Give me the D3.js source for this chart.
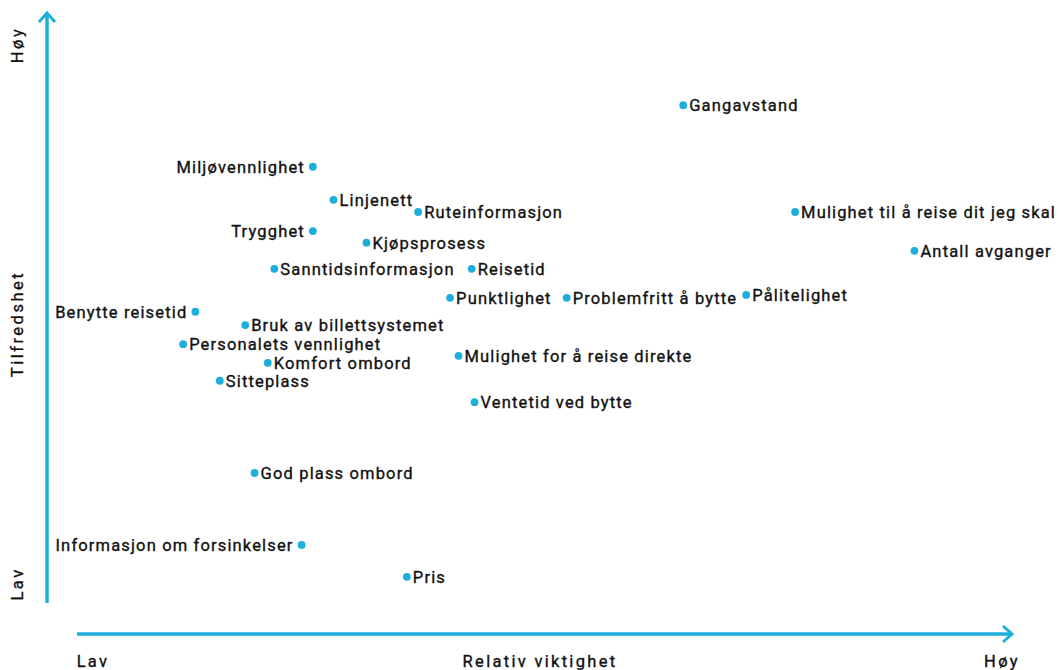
<!DOCTYPE html>
<html>
<head>
<meta charset="utf-8">
<script src="https://cdn.jsdelivr.net/npm/d3@7"></script>
<style>
    html, body { margin: 0; padding: 0; background: #fff; }
    svg text { font-family: Roboto, "DejaVu Sans", sans-serif; fill: #111; stroke: #111; stroke-width: 0.35px; }
</style>
</head>
<body>
<svg id="chart" width="1061" height="670"></svg>
<script>
/* data: relative importance (x) and satisfaction (y), 0-100 */
const names = [
    'Gangavstand', 'Miljøvennlighet', 'Linjenett', 'Ruteinformasjon',
    'Mulighet til å reise dit jeg skal', 'Trygghet', 'Kjøpsprosess', 'Antall avganger',
    'Sanntidsinformasjon', 'Reisetid', 'Punktlighet', 'Problemfritt å bytte',
    'Pålitelighet', 'Benytte reisetid', 'Bruk av billettsystemet', 'Personalets vennlighet',
    'Komfort ombord', 'Mulighet for å reise direkte', 'Sitteplass', 'Ventetid ved bytte',
    'God plass ombord', 'Informasjon om forsinkelser', 'Pris'
];
const importance = [
    66.3, 26.9, 29.1, 38.1,
    78.2, 26.9, 32.6, 90.9,
    22.8, 43.8, 41.5, 53.9,
    73.0, 14.4, 19.7, 13.1,
    22.1, 42.4, 17.0, 44.1,
    20.7, 25.7, 36.9
];
const satisfaction = [
    85.3, 74.7, 69.0, 66.9,
    66.9, 63.6, 61.6, 60.2,
    57.1, 57.1, 52.1, 52.1,
    52.6, 49.7, 47.4, 44.1,
    40.9, 42.1, 37.8, 34.1,
    21.9, 9.5, 4.0
];
// labels placed left of the dot
const leftLabels = ['Miljøvennlighet', 'Trygghet', 'Benytte reisetid', 'Informasjon om forsinkelser'];

const axisColor = '#1eaedc';
const svg = d3.select('#chart');

const x = d3.scaleLinear().domain([0, 100]).range([60, 1000]);
const y = d3.scaleLinear().domain([0, 100]).range([600, 20]);

// axes with arrows
const axes = svg.append('g').attr('class', 'axes')
    .attr('stroke', axisColor).attr('fill', 'none')
    .attr('stroke-width', 3.5);
axes.append('line').attr('x1', 47).attr('x2', 47).attr('y1', 603).attr('y2', 14);
axes.append('path').attr('d', 'M39,22 L47,13 L55,22').attr('stroke-width', 3);
axes.append('line').attr('x1', 77).attr('x2', 1011).attr('y1', 634).attr('y2', 634);
axes.append('path').attr('d', 'M1003,626 L1012,634 L1003,642').attr('stroke-width', 3);

// axis titles
const ytitles = [['Høy', 45], ['Tilfredshet', 324], ['Lav', 584]];
ytitles.forEach(d => {
    svg.append('text')
        .attr('transform', `translate(23,${d[1]}) rotate(-90)`)
        .attr('text-anchor', 'middle')
        .style('font-size', '16.5px').style('letter-spacing', '2.5px')
        .text(d[0]);
});
const xtitles = [['Lav', 93], ['Relativ viktighet', 540], ['Høy', 1002]];
xtitles.forEach(d => {
    svg.append('text')
        .attr('x', d[1]).attr('y', 667)
        .attr('text-anchor', 'middle')
        .style('font-size', '16.5px').style('letter-spacing', '2.3px')
        .text(d[0]);
});

// points
const data = names.map((n, i) => ({ name: n, x: importance[i], y: satisfaction[i] }));
const pts = svg.append('g').selectAll('g.pt').data(data).enter()
    .append('g').attr('class', 'pt')
    .attr('transform', d => `translate(${x(d.x)},${y(d.y)})`);
pts.append('circle').attr('r', 3.9).attr('fill', axisColor);
pts.append('text')
    .attr('x', d => leftLabels.includes(d.name) ? -8 : 6)
    .attr('dy', '0.35em')
    .attr('text-anchor', d => leftLabels.includes(d.name) ? 'end' : 'start')
    .style('font-size', '16.5px').style('letter-spacing', '1.15px')
    .text(d => d.name);
</script>
</body>
</html>
